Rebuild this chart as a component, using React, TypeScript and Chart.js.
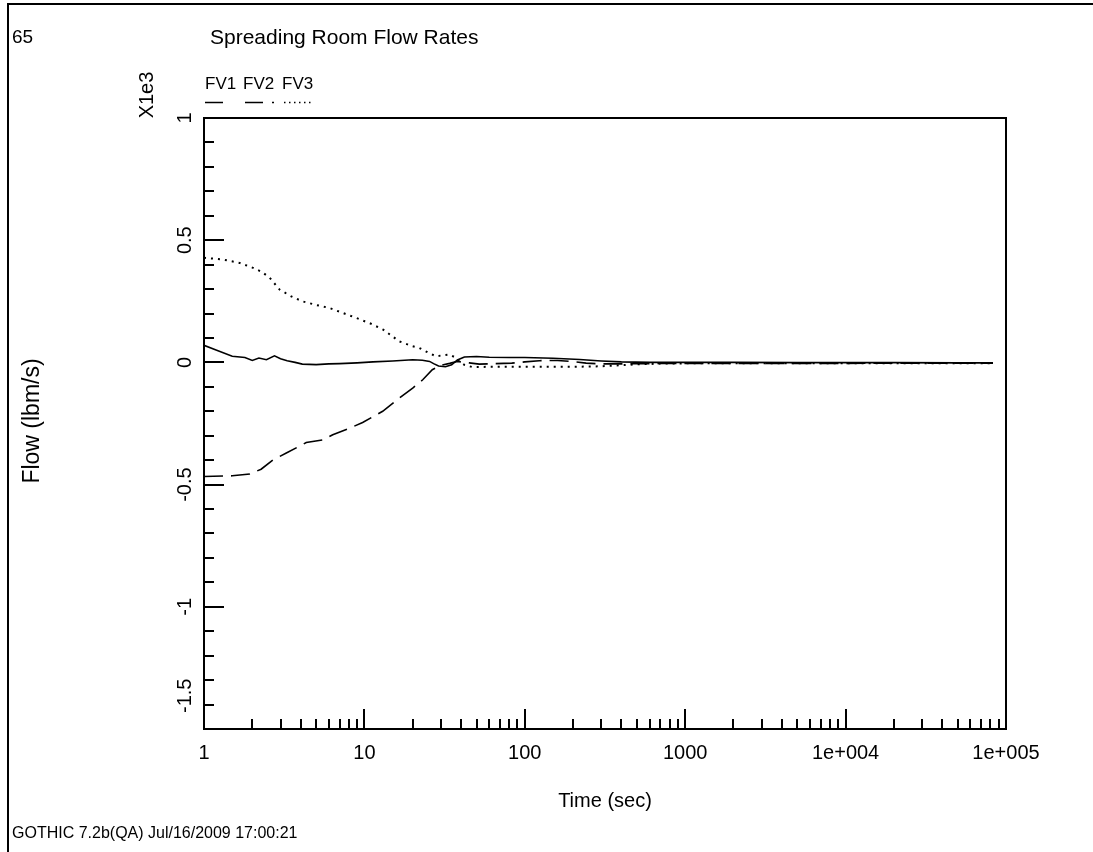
import React, { useEffect, useRef } from 'react';
import { Chart, registerables } from 'chart.js';

Chart.register(...registerables);

// ---- data (flow values shown in axis units, i.e. x 1e3 lbm/s) ----
const FV1_TIME = [1, 1.2, 1.5, 1.8, 2.0, 2.2, 2.45, 2.75, 3.0, 3.3, 3.7, 4.1, 5.0, 6.0, 7.0, 9.0, 11.3, 15, 20, 23, 25.5, 27, 29, 32, 35, 38, 42, 50, 60, 80, 100, 150, 220, 300, 400, 600, 1000, 2000, 5000, 10000, 20000, 50000, 83000];
const FV1_FLOW = [0.07, 0.05, 0.025, 0.02, 0.008, 0.018, 0.011, 0.027, 0.015, 0.007, 0.0, -0.007, -0.009, -0.006, -0.005, -0.002, 0.002, 0.006, 0.011, 0.009, 0.004, -0.005, -0.015, -0.018, -0.01, 0.01, 0.022, 0.024, 0.021, 0.02, 0.02, 0.017, 0.012, 0.006, 0.002, 0.0, 0.0, 0.0, -0.001, -0.001, -0.001, -0.002, -0.002];

const FV2_TIME = [1, 1.5, 1.93, 2.27, 2.69, 3.26, 4.34, 5.5, 6.35, 8.1, 9.75, 13, 16.5, 20, 23.1, 26.5, 30, 34, 38, 45, 52, 65, 83, 100, 123, 160, 197, 241, 300, 400, 600, 1000, 2000, 5000, 10000, 30000, 83000];
const FV2_FLOW = [-0.467, -0.464, -0.457, -0.437, -0.399, -0.371, -0.328, -0.317, -0.296, -0.269, -0.246, -0.2, -0.146, -0.105, -0.071, -0.03, -0.012, -0.004, 0.004, -0.002, -0.007, -0.005, -0.003, 0.002, 0.007, 0.008, 0.004, -0.003, -0.006, -0.006, -0.005, -0.004, -0.004, -0.004, -0.004, -0.003, -0.003];

const FV3_TIME = [1, 1.31, 1.67, 2.02, 2.3, 2.57, 2.96, 3.5, 4.1, 5, 6.04, 7.5, 8.9, 11, 13.1, 16.5, 20, 22, 25, 27.9, 30, 33.9, 37, 39, 42, 47, 60, 100, 200, 300, 385, 500, 700, 1000, 2000, 5000, 10000, 30000, 83000];
const FV3_FLOW = [0.428, 0.421, 0.407, 0.387, 0.37, 0.346, 0.298, 0.27, 0.25, 0.235, 0.223, 0.2, 0.182, 0.158, 0.134, 0.086, 0.066, 0.059, 0.04, 0.025, 0.028, 0.032, 0.02, 0.004, -0.01, -0.019, -0.018, -0.018, -0.018, -0.016, -0.012, -0.008, -0.005, -0.004, -0.003, -0.003, -0.003, -0.003, -0.003];

const SERIES_NAMES = ['FV1', 'FV2', 'FV3'];

// ---- axes ----
const X_MIN = 1;
const X_MAX = 100000;
const X_MAJOR = [1, 10, 100, 1000, 10000, 100000];
const X_LABELS = ['1', '10', '100', '1000', '1e+004', '1e+005'];
const Y_MIN = -1.5;
const Y_MAX = 1;
const Y_MAJOR = [-1.5, -1, -0.5, 0, 0.5, 1];
const Y_LABELS = ['-1.5', '-1', '-0.5', '0', '0.5', '1'];
const Y_MINOR_STEP = 0.1;

const TITLE = 'Spreading Room Flow Rates';
const PAGE_NO = '65';
const X_TITLE = 'Time (sec)';
const Y_TITLE = 'Flow (lbm/s)';
const Y_MULT = 'X1e3';
const FOOTER = 'GOTHIC 7.2b(QA) Jul/16/2009 17:00:21';

const W = 1093;
const H = 852;
const FONT = '"Liberation Sans", Arial, Helvetica, sans-serif';

const toPoints = (t: number[], v: number[]) => t.map((x, i) => ({ x, y: v[i] }));

const gothicPlugin = {
  id: 'gothicFrame',
  afterDraw(chart: any) {
    const { ctx, chartArea: a, scales } = chart;
    const xs = scales.x;
    const ys = scales.y;
    ctx.save();
    ctx.strokeStyle = '#000';
    ctx.fillStyle = '#000';
    ctx.setLineDash([]);

    // outer frame (top and left)
    ctx.lineWidth = 2;
    ctx.beginPath();
    ctx.moveTo(8, H);
    ctx.lineTo(8, 4);
    ctx.lineTo(W, 4);
    ctx.stroke();

    // plot box
    ctx.lineWidth = 2;
    ctx.strokeRect(a.left, a.top, a.right - a.left, a.bottom - a.top);

    // y ticks
    ctx.beginPath();
    const nY = Math.round((Y_MAX - Y_MIN) / Y_MINOR_STEP);
    for (let i = 0; i <= nY; i++) {
      const v = Y_MIN + i * Y_MINOR_STEP;
      const y = Math.round(ys.getPixelForValue(v));
      const major = i % 5 === 0;
      ctx.moveTo(a.left, y);
      ctx.lineTo(a.left + (major ? 20 : 10), y);
    }
    // x ticks
    for (let d = X_MIN; d < X_MAX; d *= 10) {
      for (let m = 1; m <= 9; m++) {
        const v = d * m;
        const x = Math.round(xs.getPixelForValue(v));
        const major = m === 1;
        ctx.moveTo(x, a.bottom);
        ctx.lineTo(x, a.bottom - (major ? 20 : 10));
      }
    }
    ctx.stroke();

    // x tick labels
    ctx.font = `20px ${FONT}`;
    ctx.textAlign = 'center';
    ctx.textBaseline = 'alphabetic';
    X_MAJOR.forEach((v, i) => {
      ctx.fillText(X_LABELS[i], xs.getPixelForValue(v), a.bottom + 30);
    });

    // y tick labels (rotated)
    Y_MAJOR.forEach((v, i) => {
      const y = ys.getPixelForValue(v);
      ctx.save();
      ctx.translate(191, y);
      ctx.rotate(-Math.PI / 2);
      ctx.textAlign = i === 0 ? 'left' : 'center';
      ctx.fillText(Y_LABELS[i], i === 0 ? 16 : 0, 0);
      ctx.restore();
    });

    // multiplier
    ctx.save();
    ctx.translate(153, 95);
    ctx.rotate(-Math.PI / 2);
    ctx.textAlign = 'center';
    ctx.fillText(Y_MULT, 0, 0);
    ctx.restore();

    // y title
    ctx.save();
    ctx.font = `23px ${FONT}`;
    ctx.translate(39, 421);
    ctx.rotate(-Math.PI / 2);
    ctx.textAlign = 'center';
    ctx.fillText(Y_TITLE, 0, 0);
    ctx.restore();

    // x title
    ctx.font = `20px ${FONT}`;
    ctx.textAlign = 'center';
    ctx.fillText(X_TITLE, 605, 807);

    // title + page no
    ctx.textAlign = 'left';
    ctx.font = `21px ${FONT}`;
    ctx.fillText(TITLE, 210, 44);
    ctx.font = `19px ${FONT}`;
    ctx.fillText(PAGE_NO, 12, 43);

    // footer
    ctx.font = `16px ${FONT}`;
    ctx.fillText(FOOTER, 12, 838);

    // legend
    ctx.font = `17px ${FONT}`;
    const legendX = [205, 243, 282];
    SERIES_NAMES.forEach((n, i) => ctx.fillText(n, legendX[i], 89));
    ctx.lineWidth = 1.5;
    ctx.beginPath();
    ctx.moveTo(205, 102.5);
    ctx.lineTo(223, 102.5);
    ctx.stroke();
    ctx.beginPath();
    ctx.moveTo(245, 102.5);
    ctx.lineTo(263, 102.5);
    ctx.moveTo(272, 102.5);
    ctx.lineTo(274, 102.5);
    ctx.stroke();
    ctx.setLineDash([1.5, 3.5]);
    ctx.beginPath();
    ctx.moveTo(284, 102.5);
    ctx.lineTo(314, 102.5);
    ctx.stroke();
    ctx.setLineDash([]);

    ctx.restore();
  },
};

export default function App() {
  const ref = useRef<HTMLCanvasElement | null>(null);

  useEffect(() => {
    if (!ref.current) return;
    const chart = new Chart(ref.current, {
      type: 'line',
      data: {
        datasets: [
          {
            label: SERIES_NAMES[0],
            data: toPoints(FV1_TIME, FV1_FLOW),
            borderColor: '#000',
            borderWidth: 1.6,
            pointRadius: 0,
            fill: false,
            tension: 0,
          },
          {
            label: SERIES_NAMES[1],
            data: toPoints(FV2_TIME, FV2_FLOW),
            borderColor: '#000',
            borderWidth: 1.6,
            borderDash: [19, 8],
            pointRadius: 0,
            fill: false,
            tension: 0,
          },
          {
            label: SERIES_NAMES[2],
            data: toPoints(FV3_TIME, FV3_FLOW),
            borderColor: '#000',
            borderWidth: 2,
            borderDash: [2, 5],
            pointRadius: 0,
            fill: false,
            tension: 0,
          },
        ],
      },
      options: {
        animation: false,
        responsive: false,
        devicePixelRatio: 1,
        layout: { padding: { left: 204, top: 118, right: W - 1006, bottom: H - 729 } },
        scales: {
          x: { type: 'logarithmic', min: X_MIN, max: X_MAX, display: false },
          y: { type: 'linear', min: Y_MIN, max: Y_MAX, display: false },
        },
        plugins: {
          legend: { display: false },
          title: { display: false },
          tooltip: { enabled: false },
        },
        events: [],
      } as any,
      plugins: [gothicPlugin],
    });
    return () => chart.destroy();
  }, []);

  return (
    <div style={{ position: 'absolute', left: 0, top: 0, width: W, height: H, background: '#fff' }}>
      <canvas ref={ref} width={W} height={H} style={{ display: 'block' }} />
    </div>
  );
}
